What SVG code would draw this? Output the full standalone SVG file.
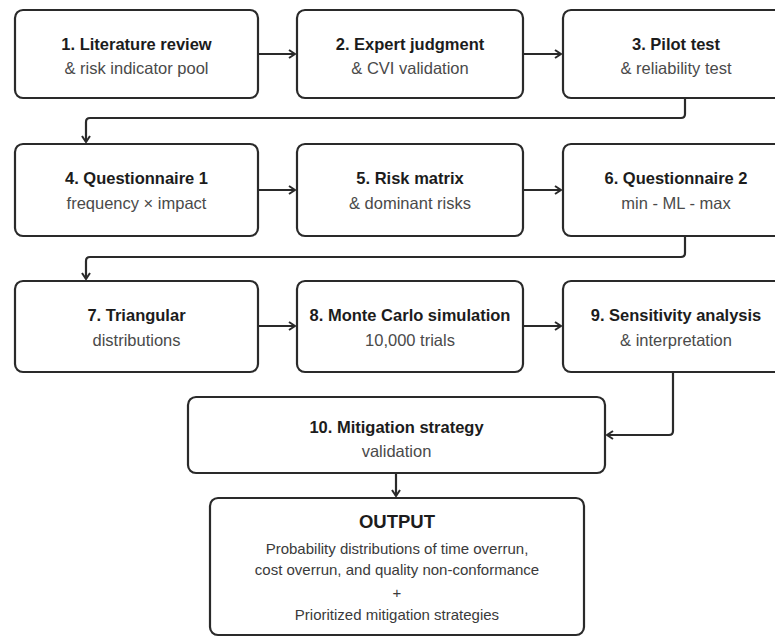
<svg xmlns="http://www.w3.org/2000/svg" width="775" height="637" viewBox="0 0 775 637">
<style>
.box{fill:#fff;stroke:#2a2a2a;stroke-width:2.2}
.t{font-family:"Liberation Sans",Arial,sans-serif;font-weight:bold;font-size:16.5px;fill:#1c1c1c;text-anchor:middle}
.s{font-family:"Liberation Sans",Arial,sans-serif;font-size:16.5px;fill:#4a4a4a;text-anchor:middle}
.o{font-family:"Liberation Sans",Arial,sans-serif;font-size:15px;fill:#3a3a3a;text-anchor:middle}
.c{fill:none;stroke:#2a2a2a;stroke-width:2.2;marker-end:url(#ah)}
</style>
<defs>
<marker id="ah" viewBox="0 0 10 10" refX="9" refY="5" markerWidth="10" markerHeight="10" markerUnits="userSpaceOnUse" orient="auto">
<path d="M3,1 L9,5 L3,9" fill="none" stroke="#2a2a2a" stroke-width="2"/>
</marker>
</defs>
<rect width="775" height="637" fill="#fff"/>
<g id="connectors">
<path class="c" d="M258,54 H295"/>
<path class="c" d="M523,54 H561"/>
<path class="c" d="M685,98 V114 Q685,118 681,118 H90 Q86,118 86,122 V142"/>
<path class="c" d="M258,190 H295"/>
<path class="c" d="M523,190 H561"/>
<path class="c" d="M685,236 V253 Q685,257 681,257 H90 Q86,257 86,261 V279"/>
<path class="c" d="M258,326 H295"/>
<path class="c" d="M523,326 H561"/>
<path class="c" d="M673,372 V431 Q673,435 669,435 H607"/>
<path class="c" d="M396,473 V496"/>
</g>
<g id="n1"><rect class="box" x="15" y="10" width="243" height="88" rx="8"/><text class="t" x="136.5" y="50">1. Literature review</text><text class="s" x="136.5" y="74">&amp; risk indicator pool</text></g>
<g id="n2"><rect class="box" x="297" y="10" width="226" height="88" rx="8"/><text class="t" x="410" y="50">2. Expert judgment</text><text class="s" x="410" y="74">&amp; CVI validation</text></g>
<g id="n3"><rect class="box" x="563" y="10" width="227" height="88" rx="8"/><text class="t" x="676" y="50">3. Pilot test</text><text class="s" x="676" y="74">&amp; reliability test</text></g>
<g id="n4"><rect class="box" x="15" y="144" width="243" height="92" rx="8"/><text class="t" x="136.5" y="184">4. Questionnaire 1</text><text class="s" x="136.5" y="209">frequency × impact</text></g>
<g id="n5"><rect class="box" x="297" y="144" width="226" height="92" rx="8"/><text class="t" x="410" y="184">5. Risk matrix</text><text class="s" x="410" y="209">&amp; dominant risks</text></g>
<g id="n6"><rect class="box" x="563" y="144" width="227" height="92" rx="8"/><text class="t" x="676" y="184">6. Questionnaire 2</text><text class="s" x="676" y="209">min - ML - max</text></g>
<g id="n7"><rect class="box" x="15" y="281" width="243" height="91" rx="8"/><text class="t" x="136.5" y="321">7. Triangular</text><text class="s" x="136.5" y="346">distributions</text></g>
<g id="n8"><rect class="box" x="297" y="281" width="226" height="91" rx="8"/><text class="t" x="410" y="321">8. Monte Carlo simulation</text><text class="s" x="410" y="346">10,000 trials</text></g>
<g id="n9"><rect class="box" x="563" y="281" width="227" height="91" rx="8"/><text class="t" x="676" y="321">9. Sensitivity analysis</text><text class="s" x="676" y="346">&amp; interpretation</text></g>
<g id="n10"><rect class="box" x="188" y="397" width="417" height="76" rx="8"/><text class="t" x="396.5" y="433">10. Mitigation strategy</text><text class="s" x="396.5" y="457">validation</text></g>
<g id="output"><rect class="box" x="210" y="498" width="374" height="137" rx="8"/>
<text class="t" x="397" y="528" style="font-size:18.5px">OUTPUT</text>
<text class="o" x="397" y="554">Probability distributions of time overrun,</text>
<text class="o" x="397" y="575">cost overrun, and quality non-conformance</text>
<text class="o" x="397" y="598">+</text>
<text class="o" x="397" y="620">Prioritized mitigation strategies</text>
</g>
</svg>
